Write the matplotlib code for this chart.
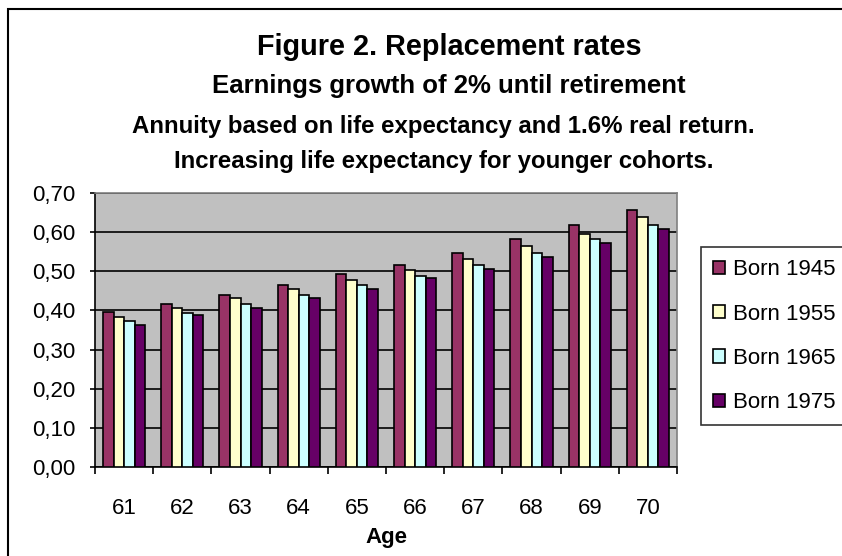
import numpy as np
import matplotlib
matplotlib.use("Agg")
import matplotlib.pyplot as plt
from matplotlib.patches import Rectangle
from matplotlib.ticker import FuncFormatter, FixedLocator

plt.rcParams['font.family'] = ['Liberation Sans', 'DejaVu Sans']

ages = ['61', '62', '63', '64', '65', '66', '67', '68', '69', '70']
cohorts = ['Born 1945', 'Born 1955', 'Born 1965', 'Born 1975']
born1945 = [0.397, 0.416, 0.440, 0.464, 0.493, 0.517, 0.547, 0.583, 0.619, 0.657]
born1955 = [0.382, 0.407, 0.431, 0.454, 0.479, 0.503, 0.531, 0.565, 0.594, 0.638]
born1965 = [0.373, 0.393, 0.416, 0.440, 0.464, 0.488, 0.517, 0.546, 0.583, 0.619]
born1975 = [0.364, 0.388, 0.407, 0.431, 0.454, 0.484, 0.507, 0.537, 0.571, 0.609]
colors = ['#993366', '#FFFFCC', '#CCFFFF', '#660066']

fig = plt.figure(figsize=(8.42, 5.56), dpi=100)
ax = fig.add_axes([95/842, 1-467/556, 582/842, 274/556])
ax.set_facecolor('#C0C0C0')

x = np.arange(len(ages))
w = 1/5.5
series = [born1945, born1955, born1965, born1975]
for i, vals in enumerate(series):
    ax.bar(x + (i-1.5)*w, vals, w, color=colors[i], edgecolor='black',
           linewidth=1.2, label=cohorts[i], zorder=3)

ax.set_xlim(-0.5, len(ages)-0.5)
ax.set_ylim(0, 0.7)
ax.set_yticks(np.arange(0, 0.71, 0.1))
ax.yaxis.set_major_formatter(FuncFormatter(lambda v, p: ('%.2f' % v).replace('.', ',')))
ax.yaxis.grid(True, color='black', linewidth=1.2, zorder=1)
ax.set_axisbelow(True)

# labels at category centres, tick marks between categories
ax.set_xticks(x)
ax.set_xticklabels(ages)
ax.xaxis.set_minor_locator(FixedLocator(np.arange(-0.5, len(ages), 1.0)))
ax.tick_params(axis='x', which='major', length=0, pad=22, labelsize=16)
ax.tick_params(axis='x', which='minor', length=5, width=1.2, direction='out')
ax.tick_params(axis='y', length=3.6, width=1.2, direction='out', pad=10.5, labelsize=16)

for s in ['top', 'right']:
    ax.spines[s].set_color('#808080')
    ax.spines[s].set_linewidth(1.2)
for s in ['left', 'bottom']:
    ax.spines[s].set_color('black')
    ax.spines[s].set_linewidth(1.2)

ax.set_xlabel('Age', fontsize=16, fontweight='bold', labelpad=6)

leg = fig.legend(loc='upper left', bbox_to_anchor=(701/842, 1-247/556), fontsize=16,
                 frameon=True, fancybox=False, edgecolor='black', handlelength=0.55,
                 handleheight=0.55, handletextpad=0.35, labelspacing=1.05, borderpad=0.55,
                 borderaxespad=0)
leg.get_frame().set_linewidth(1.2)

fig.text(0.534, 1-55/556, 'Figure 2. Replacement rates', ha='center', va='baseline',
         fontsize=20.8, fontweight='bold')
fig.text(0.533, 1-93/556, 'Earnings growth of 2% until retirement', ha='center', va='baseline',
         fontsize=18.5, fontweight='bold')
fig.text(0.527, 1-133/556, 'Annuity based on life expectancy and 1.6% real return.', ha='center',
         va='baseline', fontsize=17.3, fontweight='bold')
fig.text(0.527, 1-168/556, 'Increasing life expectancy for younger cohorts.', ha='center',
         va='baseline', fontsize=17.3, fontweight='bold')

fig.add_artist(Rectangle((8/842, -0.1), 1.2, 1.1 - 9/556, transform=fig.transFigure,
                         fill=False, edgecolor='black', linewidth=1.5))

fig.savefig('out.png', dpi=100)
